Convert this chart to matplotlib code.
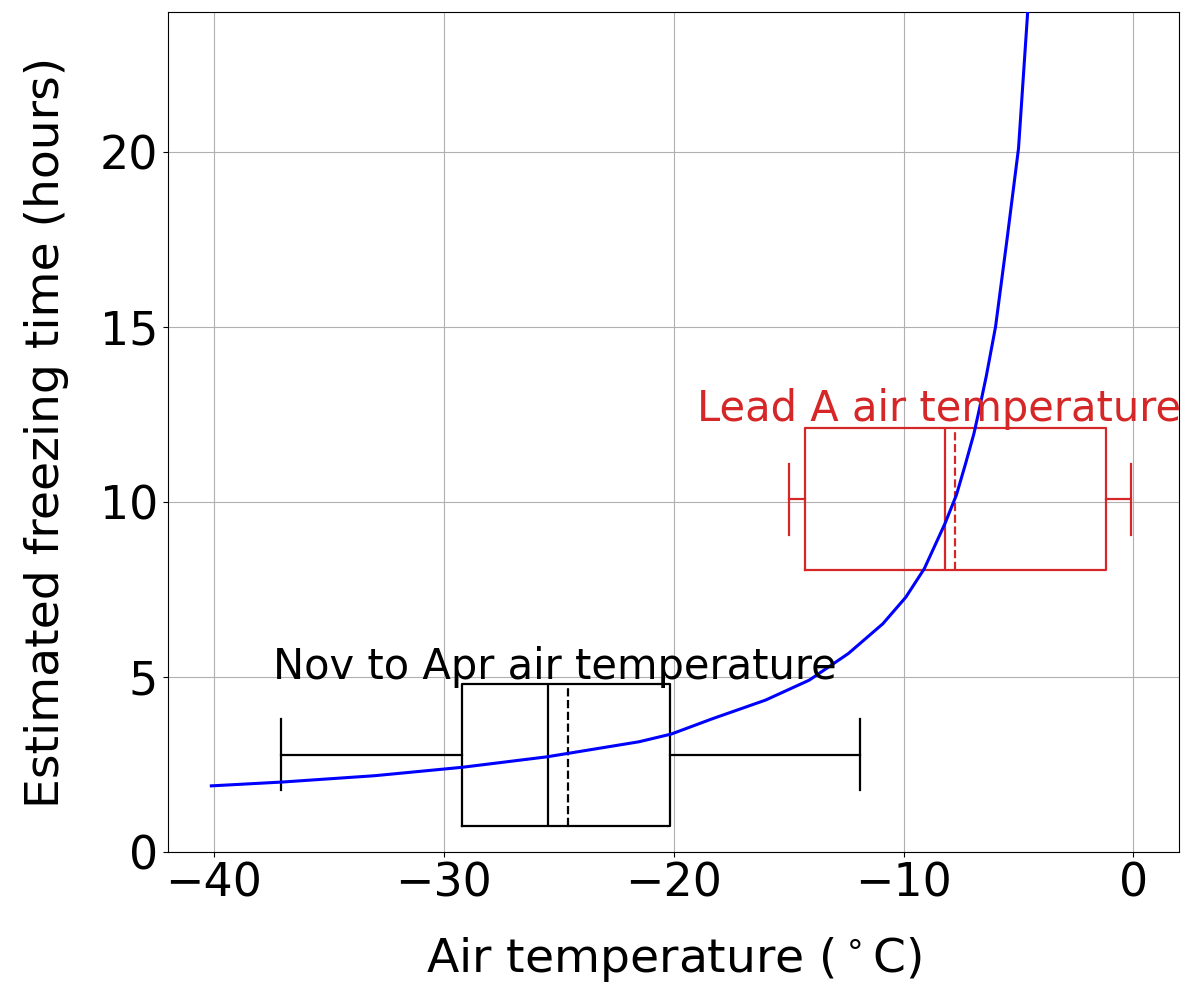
import matplotlib
matplotlib.use("Agg")
import matplotlib.pyplot as plt

# freezing-time curve
air_temp = [-40.1, -37.0, -33.0, -29.2, -25.5, -21.5, -20.1, -18.3, -16.0, -14.1,
            -12.4, -10.9, -9.9, -9.1, -8.2, -7.7, -7.3, -6.94, -6.72, -6.4,
            -6.0, -5.5, -5.0, -4.55]
freeze_hours = [1.89, 2.00, 2.18, 2.42, 2.72, 3.15, 3.37, 3.81, 4.34, 4.91,
                5.67, 6.52, 7.28, 8.09, 9.38, 10.2, 11.1, 11.95, 12.6, 13.6,
                15.0, 17.5, 20.1, 24.5]

# box summaries: whisker low, q1, median, mean, q3, whisker high
box_names = ["Nov to Apr air temperature", "Lead A air temperature"]
box_whislo = [-37.05, -15.0]
box_q1 = [-29.2, -14.3]
box_med = [-25.47, -8.2]
box_mean = [-24.6, -7.77]
box_q3 = [-20.17, -1.21]
box_whishi = [-11.9, -0.09]
box_ypos = [2.78, 10.08]
box_colors = ["black", "tab:red"]
label_xy = [(-37.4, 4.95), (-19.0, 12.3)]

fig = plt.figure(figsize=(11.89, 9.89), dpi=100)
ax = fig.add_axes([0.141, 0.1385, 0.851, 0.8495])

ax.plot(air_temp, freeze_hours, color="blue", lw=2.2, zorder=3)

for i in range(len(box_names)):
    stats = [dict(whislo=box_whislo[i], q1=box_q1[i], med=box_med[i], mean=box_mean[i],
                  q3=box_q3[i], whishi=box_whishi[i], fliers=[])]
    c = box_colors[i]
    lp = dict(color=c, lw=1.6)
    ax.bxp(stats, positions=[box_ypos[i]], widths=4.05, orientation="horizontal",
           showmeans=True, meanline=True, manage_ticks=False,
           boxprops=lp, whiskerprops=lp, capprops=lp, medianprops=lp,
           meanprops=dict(color=c, lw=1.6, linestyle="--"))
    ax.text(label_xy[i][0], label_xy[i][1], box_names[i], color=c, fontsize=30,
            clip_on=False)

ax.set_xlim(-42, 2)
ax.set_ylim(0, 24)
ax.set_xticks([-40, -30, -20, -10, 0])
ax.set_yticks([0, 5, 10, 15, 20])
ax.grid(True)
ax.tick_params(labelsize=33)
ax.set_xlabel("Air temperature ($^\\circ$C)", fontsize=34, labelpad=20)
ax.set_ylabel("Estimated freezing time (hours)", fontsize=34, labelpad=22)

fig.savefig("out.png")
